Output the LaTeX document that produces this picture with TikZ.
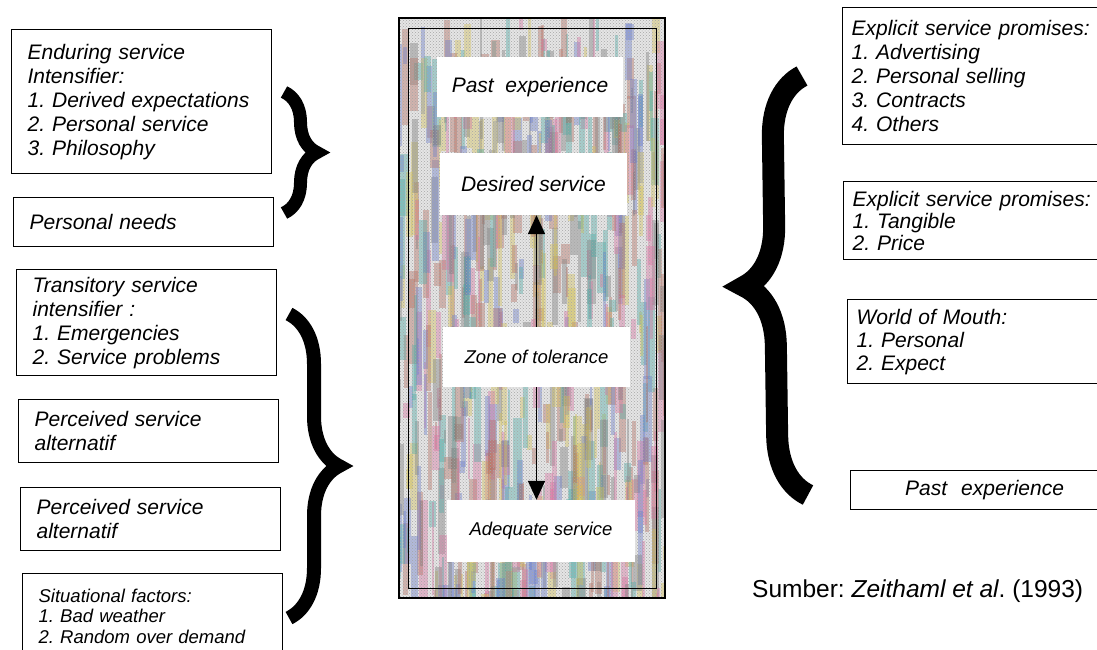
\documentclass[tikz,border=0pt]{standalone}
\usepackage{fontspec}
\setmainfont{Liberation Sans}
\frenchspacing
\usetikzlibrary{positioning, arrows.meta, decorations.pathreplacing, patterns}

% tints for the speckled panel
\definecolor{tint1}{RGB}{220,110,160}
\definecolor{tint2}{RGB}{70,170,165}
\definecolor{tint3}{RGB}{100,120,205}
\definecolor{tint4}{RGB}{215,195,80}
\definecolor{tint5}{RGB}{180,105,90}
\definecolor{tint6}{RGB}{120,120,120}

\newcommand\boxfont{\fontsize{21}{24}\selectfont\itshape}
\newcommand\smallboxfont{\fontsize{18.5}{20.5}\selectfont\itshape}

\tikzset{
    factor/.style={draw, line width=1.2pt, anchor=north west, align=left,
        inner xsep=16pt, inner ysep=0pt, text width=228pt, font=\boxfont},
    promise/.style={factor, inner xsep=9pt, text width=250pt},
    level/.style={fill=white, inner sep=0pt, font=\boxfont},
    bracket/.style={decorate, line width=#1, line cap=butt},
    tolerance arrow/.style={line width=1.6pt, -{Triangle[length=19pt, width=17pt]}},
}

\begin{document}
\begin{tikzpicture}[x=1pt, y=-1pt]
    \useasboundingbox (0,0) rectangle (1097,649);
    \clip (0,0) rectangle (1097,649);
    \fill[white] (0,0) rectangle (1097,649);

    % speckled panel in the middle
    \begin{scope}
        \clip (399,18) rectangle (665,598);
        \fill[black!10] (399,18) rectangle (665,598);
        \pgfmathsetseed{42}
        \foreach \i in {1,...,650}
        {
            \pgfmathsetmacro\sx{396+270*rnd}
            \pgfmathsetmacro\sw{2+7*rnd}
            \pgfmathsetmacro\sy{10+590*rnd}
            \pgfmathsetmacro\sh{12+90*rnd}
            \pgfmathtruncatemacro\sc{random(1,6)}
            \fill[fill=tint\sc, opacity=0.4] (\sx,\sy) rectangle ++(\sw,\sh);
        }
        \fill[pattern=crosshatch dots, pattern color=black!35] (399,18) rectangle (665,598);
    \end{scope}

    % border
    \draw[line width=2.5pt] (399,18) rectangle (665,598);
    \draw[line width=1pt] (408,28) rectangle (656,588);

    % service levels
    \node[level, minimum width=186pt, minimum height=60pt] (past) at (530,87) {Past\ \ experience};
    \node[level, minimum width=187pt, minimum height=62pt] (desired) at (533.5,184) {Desired service};
    \node[level, minimum width=187pt, minimum height=60pt, font=\smallboxfont] (zone) at (536.5,357) {Zone of tolerance};
    \node[level, minimum width=188pt, minimum height=62pt, font=\smallboxfont] (adequate) at (541,531) {Adequate service};

    \draw[tolerance arrow] (zone.north) -- (zone.north |- desired.south);
    \draw[tolerance arrow] (zone.south) -- (zone.south |- adequate.north);

    % left column
    \node[factor, minimum height=144pt] (endure) at (11,29)
        {Enduring service\\Intensifier:\\1. Derived expectations\\2. Personal service\\3. Philosophy};
    \node[factor, minimum height=49pt] (needs) at (13,197) {Personal needs};
    \node[factor, minimum height=106pt] (transit) at (16,269)
        {Transitory service\\intensifier :\\1. Emergencies\\2. Service problems};
    \node[factor, minimum height=63pt] (altA) at (18,399) {Perceived service\\alternatif};
    \node[factor, minimum height=63pt] (altB) at (20,487) {Perceived service\\alternatif};
    \node[factor, minimum height=85pt, font=\smallboxfont] (situation) at (22,573)
        {Situational factors:\\1. Bad weather\\2. Random over demand};

    % right column
    \node[promise, minimum height=137pt] (explicit) at (842,7)
        {Explicit service promises:\\1. Advertising\\2. Personal selling\\3. Contracts\\4. Others};
    \node[promise, minimum height=78pt, font=\fontsize{21}{22}\selectfont\itshape] (implicit) at (843,181)
        {Explicit service promises:\\1. Tangible\\2. Price};
    \node[promise, minimum height=84pt, font=\fontsize{21}{23}\selectfont\itshape] (mouth) at (847,299)
        {World of Mouth:\\1. Personal\\2. Expect};
    \node[promise, minimum height=39pt, align=center] (pastR) at (850,470) {Past\ \ experience};

    % braces
    \coordinate (b1top) at (284,92);
    \coordinate (b1bot) at (284,213);
    \coordinate (b2top) at (289,314);
    \coordinate (b2bot) at (289,618);
    \coordinate (b3top) at (802,76);
    \coordinate (b3bot) at (808,495);
    \draw[bracket=13pt, decoration={brace, amplitude=33pt}] (b1top) -- (b1bot);
    \draw[bracket=14pt, decoration={brace, amplitude=50pt}] (b2top) -- (b2bot);
    \draw[bracket=22pt, decoration={brace, amplitude=60pt}] (b3bot) -- (b3top);

    \node[anchor=base west, inner xsep=0pt, font=\fontsize{24.5}{30}\selectfont] (source) at (752,597)
        {Sumber: \textit{Zeithaml et al}. (1993)};
\end{tikzpicture}
\end{document}
